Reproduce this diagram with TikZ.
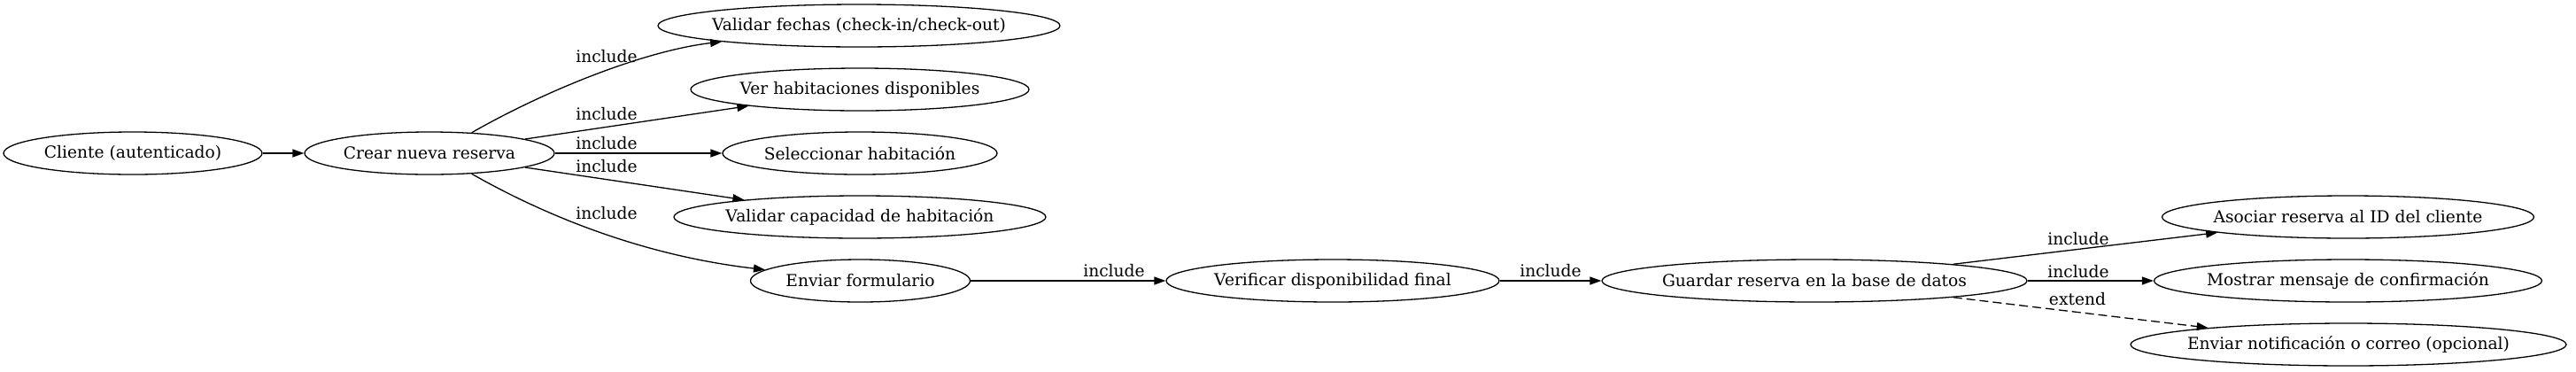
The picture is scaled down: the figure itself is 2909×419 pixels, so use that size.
\documentclass[tikz,border=0pt]{standalone}
\usepackage{fontspec}
\setmainfont{DejaVu Serif}
\usetikzlibrary{shapes.geometric,arrows.meta}
\newcommand\uctxt[1]{\makebox[0pt]{#1}}
\begin{document}
\begin{tikzpicture}[x=0.5pt,y=-0.5pt,
  uc/.style={ellipse,draw,line width=0.65pt,inner sep=0pt,minimum height=24pt,font=\fontsize{9.33}{11}\selectfont},
  conn/.style={line width=0.65pt,-{Triangle[length=6.5pt,width=4.5pt]}},
  ext/.style={conn,dash pattern=on 5pt off 2.5pt},
  lbl/.style={inner sep=0pt,font=\fontsize{9.33}{11}\selectfont}]
\fill[white] (0,0) rectangle (2909,419);
\useasboundingbox (0,0) rectangle (2909,419);

\node[uc,minimum width=146pt] (cliente) at (150,173) {\uctxt{Cliente (autenticado)}};
\node[uc,minimum width=141pt] (crear) at (485,173) {\uctxt{Crear nueva reserva}};
\node[uc,minimum width=227pt] (vfechas) at (970,29) {\uctxt{Validar fechas (check-in/check-out)}};
\node[uc,minimum width=191pt] (verhab) at (971,101) {\uctxt{Ver habitaciones disponibles}};
\node[uc,minimum width=155pt] (selec) at (971,173) {\uctxt{Seleccionar habitación}};
\node[uc,minimum width=210pt] (vcap) at (971,245) {\uctxt{Validar capacidad de habitación}};
\node[uc,minimum width=124pt] (enviar) at (971.5,317) {\uctxt{Enviar formulario}};
\node[uc,minimum width=188pt] (verif) at (1505,317) {\uctxt{Verificar disponibilidad final}};
\node[uc,minimum width=240pt] (guardar) at (2049,317) {\uctxt{Guardar reserva en la base de datos}};
\node[uc,minimum width=210pt] (asociar) at (2651.5,245) {\uctxt{Asociar reserva al ID del cliente}};
\node[uc,minimum width=219pt] (mostrar) at (2651.5,317) {\uctxt{Mostrar mensaje de confirmación}};
\node[uc,minimum width=246pt] (notif) at (2652,389) {\uctxt{Enviar notificación o correo (opcional)}};

\draw[conn] (cliente) -- (crear);
\draw[conn] (crear.26) .. controls (620,100) and (730,57) .. (vfechas)
  node[lbl] (l1) at (685,64) {include};
\draw[conn] (crear) -- (verhab)
  node[lbl] (l2) at (685,129) {include};
\draw[conn] (crear) -- (selec)
  node[lbl] (l3) at (685,162) {include};
\draw[conn] (crear) -- (vcap)
  node[lbl] (l4) at (685,188) {include};
\draw[conn] (crear.-26) .. controls (620,246) and (730,289) .. (enviar)
  node[lbl] (l5) at (685,241) {include};
\draw[conn] (enviar) -- (verif)
  node[lbl] (l6) at (1258,306) {include};
\draw[conn] (verif) -- (guardar)
  node[lbl] (l7) at (1751,306) {include};
\draw[conn] (guardar) -- (asociar)
  node[lbl] (l8) at (2347,270) {include};
\draw[conn] (guardar) -- (mostrar)
  node[lbl] (l9) at (2347,307) {include};
\draw[ext] (guardar) -- (notif)
  node[lbl] (l10) at (2346,338) {extend};
\end{tikzpicture}
\end{document}
